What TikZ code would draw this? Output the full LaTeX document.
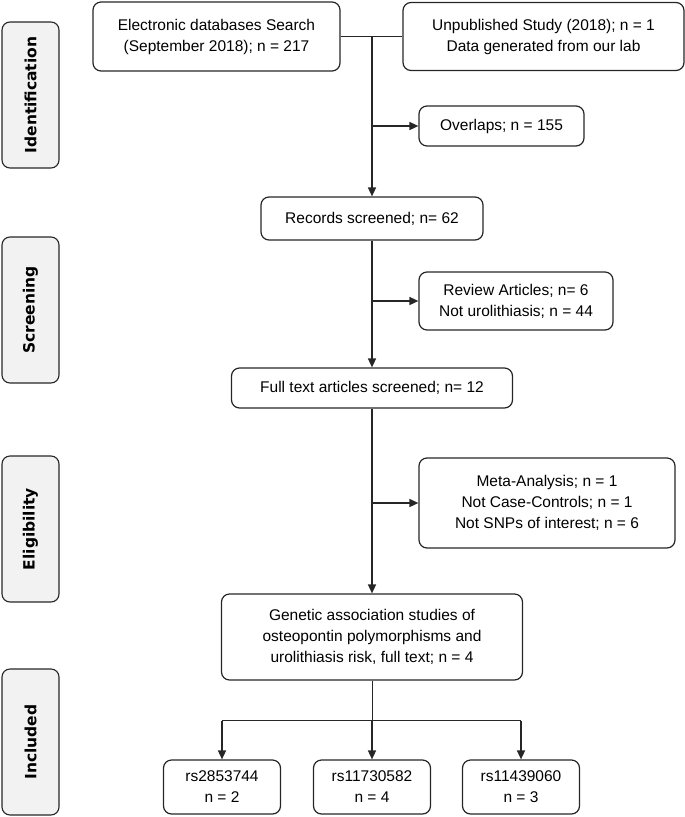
\documentclass[tikz,border=0pt]{standalone}
\usepackage{fontspec}
\setmainfont{Liberation Sans}
\newfontfamily\phasefont{DejaVu Sans}
\usepackage{tikz}
\usetikzlibrary{arrows.meta, positioning, calc}
\definecolor{LineGray}{HTML}{262626}
\definecolor{PhaseFill}{HTML}{F2F2F2}
\tikzset{
  % Box styles
  phasebox/.style={rectangle, rounded corners=8pt, draw=LineGray, fill=PhaseFill, line width=1.1pt, minimum width=146pt, minimum height=57pt, inner sep=0pt, rotate=90, font=\phasefont\bfseries\fontsize{15.5}{18}\selectfont},
  recordbox/.style={rectangle, rounded corners=8pt, draw=LineGray, line width=1.2pt, inner sep=0pt, align=center, font=\fontsize{15.5}{21}\selectfont},
  snpbox/.style={recordbox, minimum width=117pt, minimum height=54pt},
  % Arrow styles
  arrow/.style={-{Triangle[length=9pt,width=8pt]}, line width=1.5pt, LineGray},
  link/.style={line width=1.5pt, LineGray}
}
\begin{document}
\begin{tikzpicture}[x=1pt, y=-1pt]
  \useasboundingbox (0,0) rectangle (685,817);

  % Phase labels
  \node[phasebox] (identification) at (30.5,95) {Identification};
  \node[phasebox] (screening) at (30.5,310) {Screening};
  \node[phasebox] (eligibility) at (30.5,529) {Eligibility};
  \node[phasebox] (included) at (30.5,742) {Included};

  % Records
  \node[recordbox, minimum width=247pt, minimum height=69pt] (search) at (216.5,36.5) {Electronic databases Search\\(September 2018); n = 217};
  \node[recordbox, minimum width=281pt, minimum height=68pt] (unpublished) at (543.5,36.5) {Unpublished Study (2018); n = 1\\Data generated from our lab};
  \node[recordbox, minimum width=165pt, minimum height=40pt] (overlaps) at (501.5,126) {Overlaps; n = 155};
  \node[recordbox, minimum width=222pt, minimum height=43pt] (screened) at (372,218.5) {Records screened; n= 62};
  \node[recordbox, minimum width=194pt, minimum height=58pt] (review) at (516,301) {Review Articles; n= 6\\Not urolithiasis; n = 44};
  \node[recordbox, minimum width=281pt, minimum height=40pt] (fulltext) at (372,388) {Full text articles screened; n= 12};
  \node[recordbox, minimum width=256pt, minimum height=90pt] (meta) at (547,503) {Meta-Analysis; n = 1\\Not Case-Controls; n = 1\\Not SNPs of interest; n = 6};
  \node[recordbox, minimum width=301pt, minimum height=86pt] (genetic) at (372,637) {Genetic association studies of\\osteopontin polymorphisms and\\urolithiasis risk, full text; n = 4};

  % SNPs
  \node[snpbox] (snpa) at (222,787) {rs2853744\\n = 2};
  \node[snpbox] (snpb) at (372,787) {rs11730582\\n = 4};
  \node[snpbox] (snpc) at (521,787) {rs11439060\\n = 3};

  % Connectors
  \coordinate (join) at (search.east -| screened.north);
  \draw[link] (search.east) -- (search.east -| unpublished.west);
  \draw[arrow] (join) -- (screened.north);
  \draw[arrow] (join |- overlaps.west) -- (overlaps.west);
  \draw[arrow] (screened) -- (fulltext);
  \draw[arrow] (screened.south |- review.west) -- (review.west);
  \draw[arrow] (fulltext) -- (genetic);
  \draw[arrow] (fulltext.south |- meta.west) -- (meta.west);
  \coordinate (split) at ($(genetic.south)+(0,40)$);
  \draw[link, line width=0.8pt] (genetic) -- (split);
  \draw[link] (split -| snpa.north) -- (split -| snpc.north);
  \foreach \snp in {snpa, snpb, snpc}
    \draw[arrow] (split -| \snp.north) -- (\snp.north);
\end{tikzpicture}
\end{document}
